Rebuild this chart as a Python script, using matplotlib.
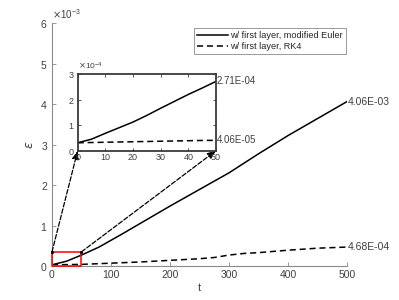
import numpy as np
import matplotlib.pyplot as plt
from matplotlib.patches import Rectangle

plt.rcParams['font.family'] = ['Liberation Sans', 'DejaVu Sans']
plt.rcParams['mathtext.fontset'] = 'dejavusans'

# main curves, t in [0, 500]
t_euler = [0, 25, 50, 80, 120, 160, 200, 250, 300, 350, 400, 450, 500]
eps_euler = [0.03e-3, 0.12e-3, 0.27e-3, 0.47e-3, 0.80e-3, 1.14e-3, 1.48e-3,
             1.89e-3, 2.30e-3, 2.77e-3, 3.22e-3, 3.64e-3, 4.06e-3]
t_rk4 = [0, 50, 100, 150, 200, 250, 275, 300, 325, 350, 400, 450, 500]
eps_rk4 = [0.03e-3, 0.04e-3, 0.07e-3, 0.10e-3, 0.14e-3, 0.18e-3, 0.21e-3,
           0.27e-3, 0.31e-3, 0.33e-3, 0.39e-3, 0.44e-3, 0.468e-3]

# zoomed part, t in [0, 50]
t_zoom = [0, 5, 10, 15, 20, 25, 30, 35, 40, 45, 50]
eps_euler_zoom = [0.31e-4, 0.45e-4, 0.68e-4, 0.90e-4, 1.12e-4, 1.38e-4,
                  1.66e-4, 1.93e-4, 2.20e-4, 2.45e-4, 2.71e-4]
eps_rk4_zoom = [0.31e-4, 0.32e-4, 0.33e-4, 0.34e-4, 0.35e-4, 0.36e-4,
                0.37e-4, 0.38e-4, 0.39e-4, 0.40e-4, 0.406e-4]

labels = ['w/ first layer, modified Euler', 'w/ first layer, RK4']
box_h = 3.5e-4

axc = '#8a8a8a'
txc = '#404040'

fig = plt.figure(figsize=(3.99, 3.0), dpi=100)
ax = fig.add_axes([0.1303, 0.1133, 0.7393, 0.81])
ax.plot(t_euler, eps_euler, 'k-', lw=1.1, label=labels[0])
ax.plot(t_rk4, eps_rk4, 'k--', lw=1.1, dashes=(4, 2.5), label=labels[1])
ax.set_xlim(0, 500)
ax.set_ylim(0, 6e-3)
ax.set_xticks(np.arange(0, 501, 100))
ax.set_yticks(np.arange(0, 6.01e-3, 1e-3))
ax.ticklabel_format(axis='y', style='sci', scilimits=(0, 0), useMathText=True)
ax.yaxis.get_offset_text().set_fontsize(7)
ax.yaxis.get_offset_text().set_color(txc)
for s in ['top', 'right']:
    ax.spines[s].set_visible(False)
for s in ['left', 'bottom']:
    ax.spines[s].set_color(axc)
    ax.spines[s].set_linewidth(0.8)
ax.tick_params(direction='in', length=3, width=0.6, color=axc,
               labelsize=7.5, labelcolor=txc, pad=3)
ax.set_xlabel('t', fontsize=8, color=txc, labelpad=2)
ax.set_ylabel(r'$\epsilon$', fontsize=9, color=txc, labelpad=3)

# red box around zoomed region
ax.add_patch(Rectangle((0, 0), 50, box_h, fill=False, ec='red', lw=1.1,
                       clip_on=False, zorder=5))
ax.plot([0, 50], [box_h, box_h], 'k.', ms=2.5, clip_on=False, zorder=6)

ax.text(t_euler[-1] + 1, eps_euler[-1], '%.2E' % eps_euler[-1], fontsize=7.5,
        va='center', ha='left', color=txc)
ax.text(t_rk4[-1] + 1, eps_rk4[-1], '%.2E' % eps_rk4[-1], fontsize=7.5,
        va='center', ha='left', color=txc)

leg = ax.legend(loc='upper right', bbox_to_anchor=(346 / 399, 1 - 28 / 300),
                bbox_transform=fig.transFigure, borderaxespad=0, fontsize=6.6,
                fancybox=False, framealpha=1, edgecolor='#9a9a9a',
                handlelength=3.4, handletextpad=0.3, borderpad=0.3,
                labelspacing=0.25)
leg.get_frame().set_linewidth(0.7)
for txt in leg.get_texts():
    txt.set_color('#262626')

# inset
axins = fig.add_axes([0.1947, 0.4977, 0.3466, 0.2557])
axins.plot(t_zoom, eps_euler_zoom, 'k-', lw=1.1)
axins.plot(t_zoom, eps_rk4_zoom, 'k--', lw=1.1, dashes=(4, 2.5))
axins.set_xlim(0, 50)
axins.set_ylim(0, 3e-4)
axins.set_xticks(np.arange(0, 51, 10))
axins.set_yticks(np.arange(0, 3.01e-4, 1e-4))
axins.ticklabel_format(axis='y', style='sci', scilimits=(0, 0), useMathText=True)
axins.yaxis.get_offset_text().set_fontsize(6)
axins.yaxis.get_offset_text().set_color(txc)
for s in axins.spines.values():
    s.set_color('#3a3a3a')
    s.set_linewidth(1.3)
axins.tick_params(direction='in', length=2.5, width=0.6, color='#3a3a3a',
                  labelsize=6.5, labelcolor=txc, pad=2,
                  top=True, right=True)
axins.text(50.3, eps_euler_zoom[-1], '%.2E' % eps_euler_zoom[-1], fontsize=7,
           va='center', ha='left', color=txc, clip_on=False)
axins.text(50.3, eps_rk4_zoom[-1], '%.2E' % eps_rk4_zoom[-1], fontsize=7,
           va='center', ha='left', color=txc, clip_on=False)

# dashed arrows from the red box to the inset
for x0, xf in [(0, 0), (50, 1)]:
    ax.annotate('', xy=(xf, 0), xycoords=axins.transAxes,
                xytext=(x0, box_h), textcoords='data',
                arrowprops=dict(arrowstyle='-|>,head_length=0.5,head_width=0.2',
                                ls='--', lw=0.9, color='k',
                                shrinkA=0, shrinkB=0),
                annotation_clip=False)

plt.savefig('out.png', dpi=100)
